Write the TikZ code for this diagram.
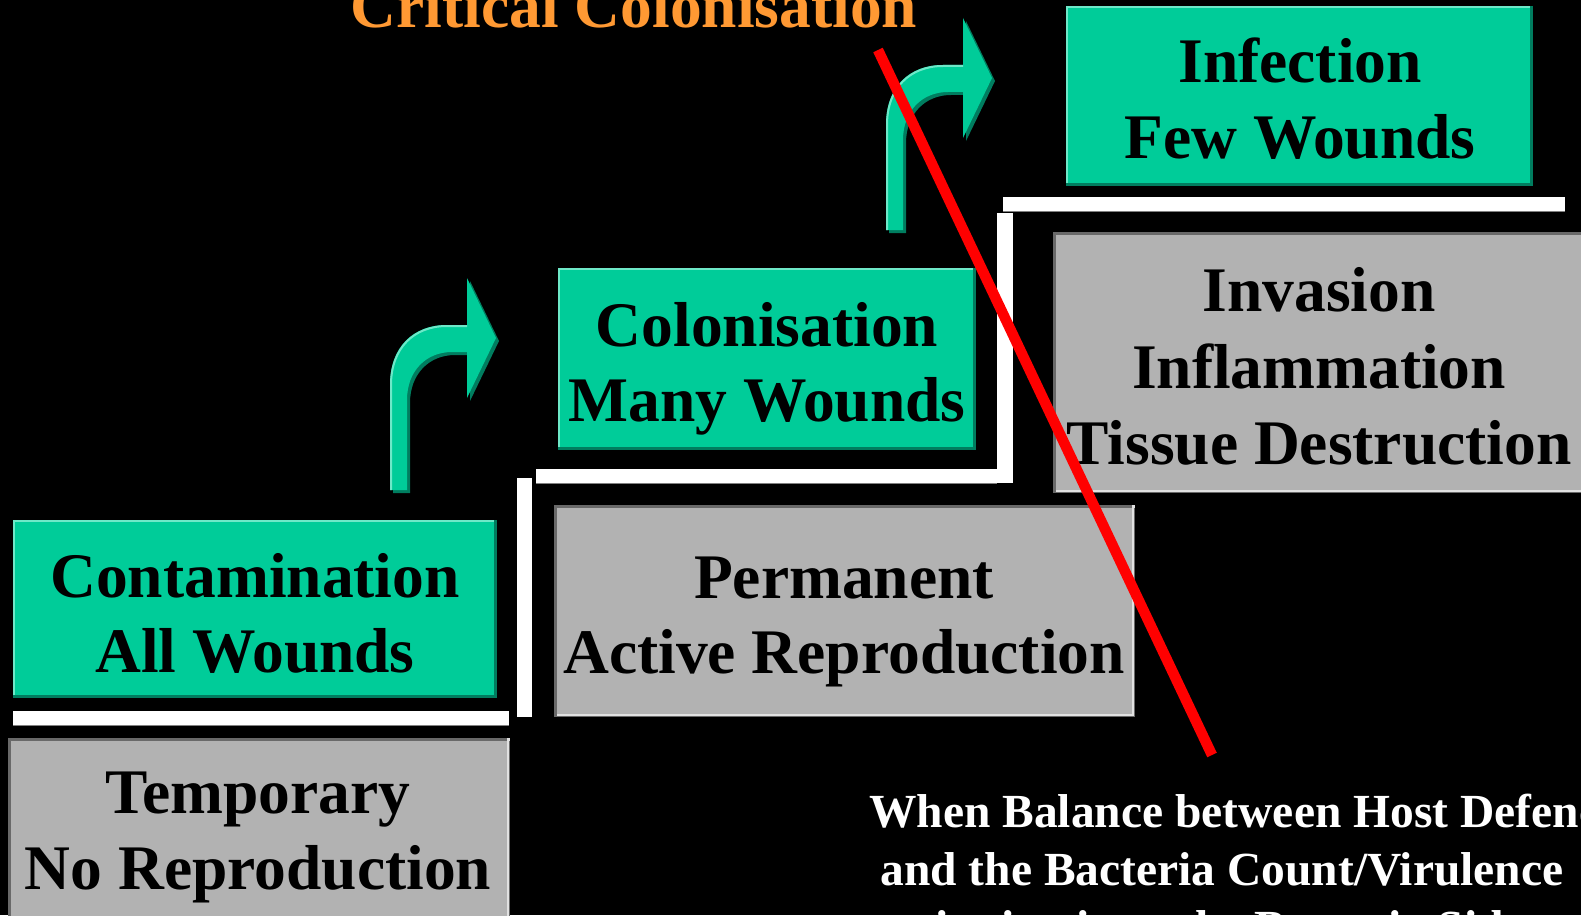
\documentclass[tikz,border=0pt]{standalone}
\usepackage{fontspec}
\setmainfont{Liberation Serif}
\definecolor{teal1}{RGB}{0,204,153}
\definecolor{tealdk}{RGB}{0,125,95}
\definecolor{teallt}{RGB}{110,232,200}
\definecolor{gray1}{RGB}{178,178,178}
\definecolor{graydk}{RGB}{105,105,105}
\definecolor{graylt}{RGB}{225,225,225}
\definecolor{orange1}{RGB}{255,153,51}
\tikzset{
  box/.style={rectangle, inner sep=0pt, outer sep=0pt},
  tealbox/.style={box, fill=teal1},
  graybox/.style={box, fill=gray1},
  lbl/.style={font=\bfseries\fontsize{63.5}{75.5}\selectfont, text=black, anchor=base, inner sep=0pt},
  note/.style={font=\bfseries\fontsize{47.5}{58}\selectfont, text=white, anchor=base, inner sep=0pt},
  ttl/.style={font=\bfseries\fontsize{63.5}{75.5}\selectfont, text=orange1, anchor=base, inner sep=0pt},
  whitebar/.style={fill=white},
  redline/.style={draw=red, line width=10.5pt},
  bentarrow/.pic={
    \path[pic actions] (0,0) -- (0,-105) .. controls (0,-143) and (23,-165) .. (57,-165)
      -- (77,-165) -- (77,-212) -- (106,-152) -- (77,-92) -- (77,-138) -- (62,-138)
      .. controls (36,-138) and (17,-119) .. (17,-90) -- (17,0) -- cycle;
  },
  arrowlight/.pic={
    \path[pic actions] (1,0) -- (1,-105) .. controls (1,-142) and (24,-164) .. (57,-164) -- (77,-164);
  }
}
\newcommand\tealedge[1]{%
  \fill[teallt] (#1.north west) rectangle ([yshift=-2pt]#1.north east);
  \fill[teallt] (#1.north west) rectangle ([xshift=2pt]#1.south west);
  \fill[tealdk] (#1.south west) rectangle ([yshift=3pt]#1.south east);
  \fill[tealdk] (#1.north east) rectangle ([xshift=-3pt]#1.south east);
}
\newcommand\grayedge[1]{%
  \fill[graydk] (#1.north west) rectangle ([yshift=-2.5pt]#1.north east);
  \fill[graydk] (#1.north west) rectangle ([xshift=2.5pt]#1.south west);
  \fill[graylt] ([xshift=2.5pt]#1.south west) rectangle ([yshift=3pt]#1.south east);
  \fill[graylt] (#1.north east) rectangle ([xshift=-3pt]#1.south east);
  \draw[graydk, line width=1pt] ([xshift=2.5pt,yshift=0.5pt]#1.south west) -- ([xshift=-0.5pt,yshift=0.5pt]#1.south east) -- ([xshift=-0.5pt,yshift=-2.5pt]#1.north east);
}
\begin{document}
\begin{tikzpicture}[x=1pt,y=-1pt]
\useasboundingbox (0,0) rectangle (1581,915);
\clip (0,0) rectangle (1581,915);
\fill[black] (0,0) rectangle (1581,915);

% boxes
\node[tealbox, minimum width=484pt, minimum height=178pt] (contam) at (255,609) {};
\node[graybox, minimum width=502pt, minimum height=192pt] (temp) at (259,834) {};
\node[tealbox, minimum width=418pt, minimum height=182pt] (colon) at (767,359) {};
\node[graybox, minimum width=581pt, minimum height=212pt] (perm) at (844.5,611) {};
\node[tealbox, minimum width=467pt, minimum height=180pt] (infect) at (1299.5,96) {};
\node[graybox, minimum width=537pt, minimum height=261pt] (invas) at (1321.5,362.5) {};
\tealedge{contam}
\tealedge{colon}
\tealedge{infect}
\grayedge{temp}
\grayedge{perm}
\grayedge{invas}

% white steps
\fill[whitebar] (13,711) rectangle (509,725);
\fill[whitebar] (517,478) rectangle (532,717);
\fill[whitebar] (536,469) rectangle (1013,483);
\fill[whitebar] (997,213) rectangle (1013,483);
\fill[whitebar] (1003,197) rectangle (1565,211);
\draw[gray, line width=1pt] (1003,211.5) -- (1565,211.5);
\draw[gray, line width=1pt] (536,483.5) -- (997,483.5);
\draw[gray, line width=1pt] (13,725.5) -- (509,725.5);

% bent arrows
\pic[fill=tealdk] (arrAs) at (393,493) {bentarrow};
\pic[fill=teal1] (arrA) at (390,490) {bentarrow};
\pic[draw=teallt, line width=2pt] (arrAh) at (390,490) {arrowlight};
\pic[fill=tealdk] (arrBs) at (889,233) {bentarrow};
\pic[fill=teal1] (arrB) at (886,230) {bentarrow};
\pic[draw=teallt, line width=2pt] (arrBh) at (886,230) {arrowlight};

% labels
\node[lbl] (contamA) at (255,597) {Contamination};
\node[lbl] (contamB) at (255,672) {All Wounds};
\node[lbl] (tempA) at (258,813) {Temporary};
\node[lbl] (tempB) at (258,889) {No Reproduction};
\node[lbl] (colonA) at (767,346) {Colonisation};
\node[lbl] (colonB) at (767,421) {Many Wounds};
\node[lbl] (permA) at (844,598) {Permanent};
\node[lbl] (permB) at (844,673) {Active Reproduction};
\node[lbl] (infectA) at (1300,83) {Infection};
\node[lbl] (infectB) at (1300,158) {Few Wounds};
\node[lbl] (invasA) at (1319,311) {Invasion};
\node[lbl] (invasB) at (1319,388) {Inflammation};
\node[lbl] (invasC) at (1319,464) {Tissue Destruction};
\node[ttl] (crit) at (634,28) {Critical Colonisation};
\node[note, anchor=base west] (noteA) at (869,827) {When Balance between Host Defence};
\node[note] (noteB) at (1222,885) {and the Bacteria Count/Virulence};
\node[note] (noteC) at (1222,943) {tipping in to the Bacteria Side};

% red line
\coordinate (rtop) at (878,50);
\coordinate (rbot) at (1212,755);
\draw[redline] (rtop) -- (rbot);
\end{tikzpicture}
\end{document}
